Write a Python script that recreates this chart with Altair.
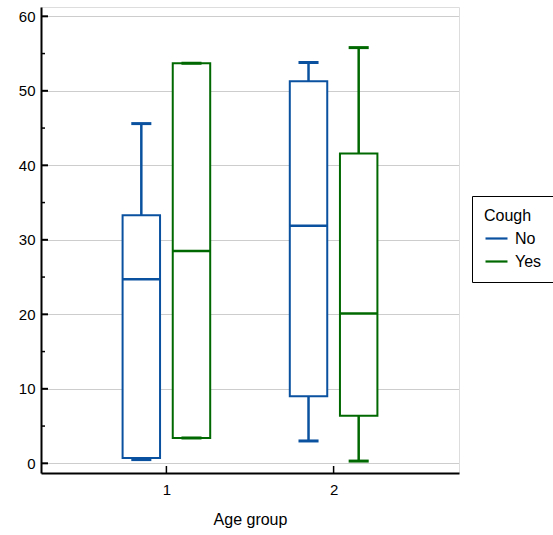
import altair as alt
import pandas as pd

# ---- data ----
groups = [1, 1, 2, 2]
cough = ["No", "Yes", "No", "Yes"]
whisker_low = [0.5, 3.4, 3.0, 0.3]
quart1 = [0.7, 3.4, 9.0, 6.4]
medians = [24.7, 28.5, 31.9, 20.1]
quart3 = [33.3, 53.7, 51.3, 41.6]
whisker_high = [45.6, 53.7, 53.8, 55.8]

x_ticks = [1, 2]
y_major = [0, 10, 20, 30, 40, 50, 60]
y_minor = [5, 15, 25, 35, 45, 55]

df = pd.DataFrame(dict(group=groups, cough=cough, lo=whisker_low, q1=quart1,
                       med=medians, q3=quart3, hi=whisker_high))

W, H = 418, 466
FONT = "Liberation Sans"
xs = alt.Scale(domain=[0.25, 2.75], nice=False, zero=False)
ys = alt.Scale(domain=[-1.3, 61.25], nice=False, zero=False)
cs = alt.Scale(domain=["No", "Yes"], range=["#0a52a0", "#006800"])

xaxis = alt.Axis(
    values=x_ticks, ticks=False, grid=False, title="Age group",
    domainColor="black", domainWidth=2,
    labelFont=FONT, labelFontSize=15, labelColor="black", labelPadding=9,
    titleFont=FONT, titleFontSize=16, titleFontWeight="normal",
    titleColor="black", titlePadding=14)
yaxis = alt.Axis(
    values=y_major, ticks=False, grid=True, title="",
    gridColor="#9a9a9a", gridDash=[1, 1], gridWidth=1,
    domainColor="black", domainWidth=2,
    labelFont=FONT, labelFontSize=15, labelColor="black", labelPadding=6)

base = alt.Chart(df).transform_calculate(
    xc="datum.group + (datum.cough == 'No' ? -0.15 : 0.15)"
).transform_calculate(
    bl="datum.xc - 0.112", br="datum.xc + 0.112",
    cl="datum.xc - 0.06", cr="datum.xc + 0.06"
)

legend = alt.Legend(
    title="Cough\u2800", orient="none", legendX=431, legendY=189,
    strokeColor="black", fillColor="white", padding=12,
    titleFont=FONT, titleFontSize=16, titleFontWeight="normal", titleColor="black",
    labelFont=FONT, labelFontSize=16, labelColor="black",
    symbolType="stroke", symbolStrokeWidth=2.2, symbolSize=484,
    rowPadding=2, titlePadding=2, labelOffset=6,
)

stroke = alt.Stroke("cough:N", scale=cs, legend=legend)


def X(f):
    return alt.X(f, scale=xs, axis=xaxis)


def Y(f):
    return alt.Y(f, scale=ys, axis=yaxis)


whisk_up = base.mark_rule(strokeWidth=2.5).encode(
    x=X("xc:Q"), y=Y("q3:Q"), y2="hi:Q", stroke=stroke)
whisk_dn = base.mark_rule(strokeWidth=2.5).encode(
    x=X("xc:Q"), y=Y("lo:Q"), y2="q1:Q", stroke=stroke)
box = base.mark_rect(fill="white", strokeWidth=2).encode(
    x=X("bl:Q"), x2="br:Q", y=Y("q1:Q"), y2="q3:Q", stroke=stroke)
med = base.mark_rule(strokeWidth=2.5).encode(
    x=X("bl:Q"), x2="br:Q", y=Y("med:Q"), stroke=stroke)
cap_hi = base.mark_rule(strokeWidth=3).encode(
    x=X("cl:Q"), x2="cr:Q", y=Y("hi:Q"), stroke=stroke)
cap_lo = base.mark_rule(strokeWidth=3).encode(
    x=X("cl:Q"), x2="cr:Q", y=Y("lo:Q"), stroke=stroke)

# inward tick marks
ymaj = alt.Chart(pd.DataFrame({"v": y_major})).mark_rule(color="black", strokeWidth=2).encode(
    y=Y("v:Q"), x=alt.value(0), x2=alt.value(7))
ymin = alt.Chart(pd.DataFrame({"v": y_minor})).mark_rule(color="black", strokeWidth=1.5).encode(
    y=Y("v:Q"), x=alt.value(0), x2=alt.value(4))
xtk = alt.Chart(pd.DataFrame({"v": x_ticks})).mark_rule(color="black", strokeWidth=1.5).encode(
    x=X("v:Q"), y=alt.value(H), y2=alt.value(H - 7))

chart = alt.layer(whisk_up, whisk_dn, box, med, cap_hi, cap_lo, ymaj, ymin, xtk).properties(
    width=W, height=H,
    autosize=alt.AutoSizeParams(type="none"),
    padding={"left": 41, "top": 7, "right": 553 - 41 - W, "bottom": 535 - 7 - H},
).configure_view(stroke=None).configure(background="white")

chart.save("out.html", embed_options={"renderer": "svg", "actions": False})
